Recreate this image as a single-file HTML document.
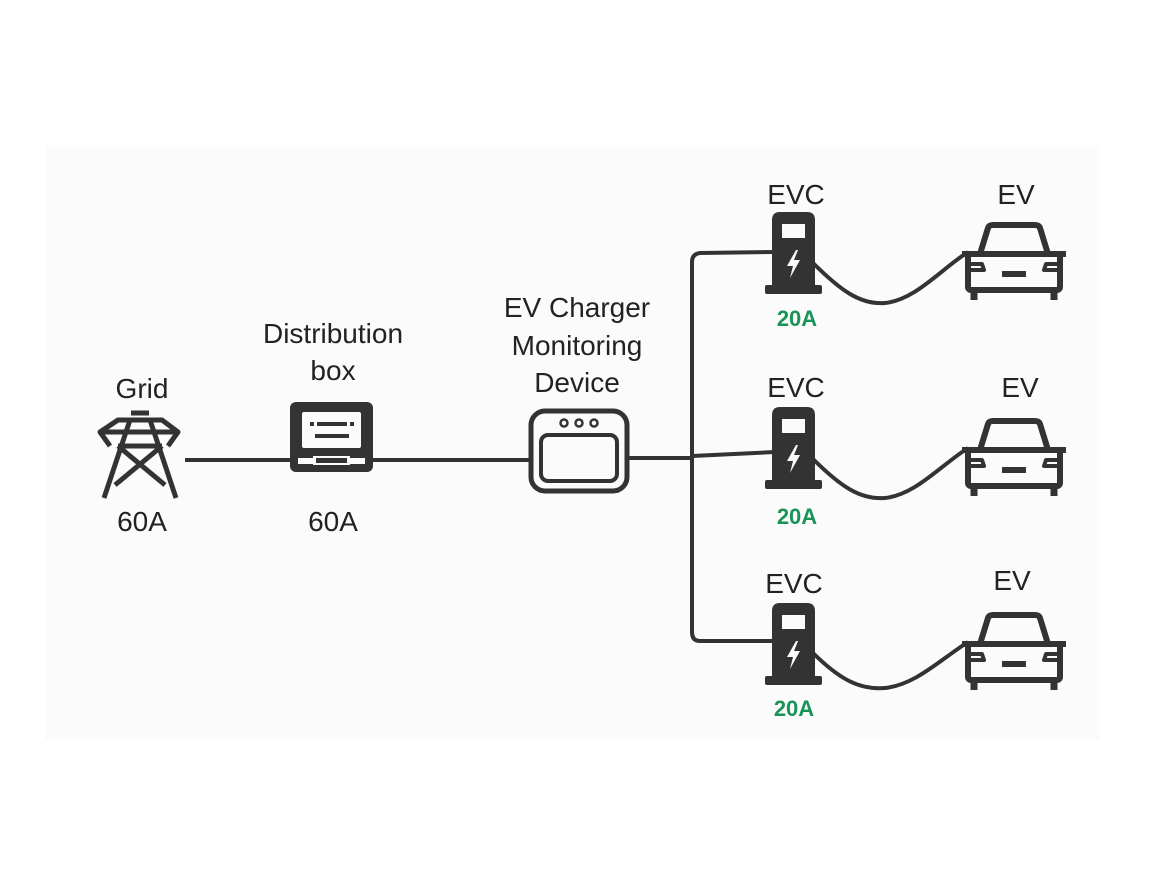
<!DOCTYPE html>
<html><head><style>
body{margin:0;background:#fff}
text{font-family:"Liberation Sans",sans-serif;fill:#222;text-anchor:middle}
.g{fill:#1a9358;font-weight:bold;font-size:22px}
</style></head><body>
<svg width="1160" height="870" viewBox="0 0 1160 870" xmlns="http://www.w3.org/2000/svg">
<rect x="0" y="0" width="1160" height="870" fill="#fff"/>
<rect x="45" y="145" width="1055" height="595" fill="#fbfbfb"/>
<defs>
<g id="chg">
 <path d="M0,8 Q0,0 8,0 L35,0 Q43,0 43,8 L43,76 L0,76 Z" fill="#333"/>
 <rect x="10" y="12" width="23" height="14" fill="#fbfbfb"/>
 <path d="M24,38 L15,54 L21,54 L18,66 L28,48 L22,48 L26,38 Z" fill="#fbfbfb"/>
 <rect x="-7" y="73" width="57" height="9" rx="2" fill="#333"/>
</g>
<g id="car" fill="none" stroke="#333" stroke-width="6" stroke-linejoin="round">
 <path d="M18,32 L26,6 Q27,3 31,3 L73,3 Q77,3 78,6 L86,32"/>
 <rect x="6" y="32" width="92" height="36" rx="3"/>
 <line x1="0" y1="32" x2="8" y2="32"/><line x1="96" y1="32" x2="104" y2="32"/>
 <line x1="12" y1="70" x2="12" y2="78" stroke-width="7"/><line x1="92" y1="70" x2="92" y2="78" stroke-width="7"/>
 <line x1="40" y1="52" x2="64" y2="52" stroke-width="6"/>
 <path d="M8,42 L20,42 L22,48 L8,48" stroke-width="4"/><path d="M96,42 L84,42 L82,48 L96,48" stroke-width="4"/>
</g>
</defs>
<g font-size="28">
<text x="142" y="398">Grid</text>
<text x="333" y="343">Distribution</text>
<text x="333" y="380">box</text>
<text x="577" y="317">EV Charger</text>
<text x="577" y="355">Monitoring</text>
<text x="577" y="392">Device</text>
<text x="142" y="531">60A</text>
<text x="333" y="531">60A</text>
<text x="796" y="204">EVC</text><text x="1016" y="204">EV</text>
<text x="796" y="397">EVC</text><text x="1020" y="397">EV</text>
<text x="794" y="593">EVC</text><text x="1012" y="590">EV</text>
</g>
<text class="g" x="797" y="326">20A</text>
<text class="g" x="797" y="524">20A</text>
<text class="g" x="794" y="716">20A</text>
<g stroke="#333" stroke-width="4" fill="none">
<line x1="185" y1="460" x2="530" y2="460"/>
<line x1="628" y1="458" x2="692" y2="458"/>
<path d="M775,252 L700,253 Q692,254 692,262 L692,632 Q692,641 700,641 L775,641"/>
<path d="M692,456 L775,452"/>
<path d="M812,262 C840,290 860,305 885,303 C915,300 940,270 968,252"/>
<path d="M812,458 C840,486 860,500 885,498 C915,495 940,466 968,448"/>
<path d="M812,652 C840,680 860,690 885,688 C915,685 940,660 968,642"/>
</g>
<g stroke="#333" stroke-width="5" fill="none" stroke-linejoin="round">
<path d="M118,420 L162,420 L178,432 L100,432 Z"/>
<path d="M130,420 L104,498 M150,420 L176,498"/>
<path d="M100,432 L110,446 M178,432 L168,446"/>
<path d="M118,446 L162,446 M118,446 L165,485 M162,446 L115,485"/>
<line x1="131" y1="413" x2="149" y2="413"/>
</g>
<rect x="290" y="402" width="83" height="70" rx="6" fill="#333"/>
<rect x="302" y="412" width="59" height="36" rx="2" fill="#fbfbfb"/>
<rect x="317" y="422" width="30" height="4" fill="#333"/><rect x="310" y="422" width="4" height="4" fill="#333"/><rect x="350" y="422" width="4" height="4" fill="#333"/>
<rect x="315" y="434" width="34" height="4" fill="#333"/>
<rect x="298" y="458" width="67" height="6" fill="#fbfbfb"/>
<rect x="313" y="456" width="37" height="9" fill="#fbfbfb"/>
<rect x="316" y="458" width="31" height="5" fill="#333"/>
<rect x="531" y="411" width="96" height="80" rx="14" fill="none" stroke="#333" stroke-width="5"/>
<rect x="541" y="435" width="76" height="46" rx="7" fill="none" stroke="#333" stroke-width="4"/>
<circle cx="564" cy="423" r="3.5" fill="none" stroke="#333" stroke-width="2.5"/>
<circle cx="579" cy="423" r="3.5" fill="none" stroke="#333" stroke-width="2.5"/>
<circle cx="594" cy="423" r="3.5" fill="none" stroke="#333" stroke-width="2.5"/>
<use href="#chg" x="772" y="212"/>
<use href="#chg" x="772" y="407"/>
<use href="#chg" x="772" y="603"/>
<use href="#car" x="962" y="222"/>
<use href="#car" x="962" y="418"/>
<use href="#car" x="962" y="612"/>
</svg>
</body></html>
